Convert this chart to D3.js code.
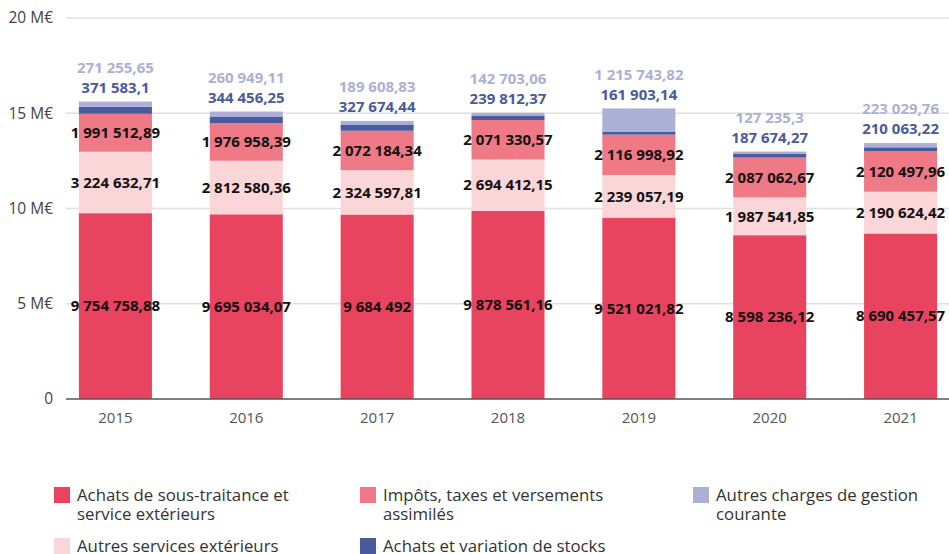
<!DOCTYPE html>
<html>
<head>
<meta charset="utf-8">
<script src="https://cdn.jsdelivr.net/npm/d3@7"></script>
<style>
  body { margin: 0; background: #fff; }
  svg { display: block; font-family: "Open Sans", "Noto Sans", sans-serif; }
</style>
</head>
<body>
<svg id="chart" width="949" height="554"></svg>
<script>
// Charges d'exploitation par année (en euros)
const years = ["2015", "2016", "2017", "2018", "2019", "2020", "2021"];

const sousTraitance = [9754758.88, 9695034.07, 9684492, 9878561.16, 9521021.82, 8598236.12, 8690457.57];
const autresServices = [3224632.71, 2812580.36, 2324597.81, 2694412.15, 2239057.19, 1987541.85, 2190624.42];
const impots = [1991512.89, 1976958.39, 2072184.34, 2071330.57, 2116998.92, 2087062.67, 2120497.96];
const achatsStocks = [371583.1, 344456.25, 327674.44, 239812.37, 161903.14, 187674.27, 210063.22];
const autresCharges = [271255.65, 260949.11, 189608.83, 142703.06, 1215743.82, 127235.3, 223029.76];

const yTicks = [0, 5e6, 10e6, 15e6, 20e6];
const yTickLabels = ["0", "5 M€", "10 M€", "15 M€", "20 M€"];

const series = [
  { key: "sousTraitance", label: ["Achats de sous-traitance et", "service extérieurs"], values: sousTraitance, color: "#e8435f" },
  { key: "autresServices", label: ["Autres services extérieurs"], values: autresServices, color: "#fad6d8" },
  { key: "impots", label: ["Impôts, taxes et versements", "assimilés"], values: impots, color: "#ef7984" },
  { key: "achatsStocks", label: ["Achats et variation de stocks"], values: achatsStocks, color: "#4a5a9e" },
  { key: "autresCharges", label: ["Autres charges de gestion", "courante"], values: autresCharges, color: "#adb0d6" }
];

// French number format: grouping spaces, decimal comma
function fmt(v) {
  const [i, d] = String(v).split(".");
  const grouped = i.replace(/\B(?=(\d{3})+(?!\d))/g, " ");
  return d ? grouped + "," + d : grouped;
}

const rows = years.map((yr, i) => {
  const r = { year: yr };
  series.forEach(s => r[s.key] = s.values[i]);
  return r;
});

const stacked = d3.stack().keys(series.map(s => s.key))(rows);

const svg = d3.select("#chart");
const x = d3.scaleBand().domain(years).range([50, 966]).paddingInner(0.442).paddingOuter(0.221);
const y = d3.scaleLinear().domain([0, 20e6]).range([399, 18]);

// Gridlines
svg.append("g").selectAll("line")
  .data(yTicks.slice(1))
  .join("line")
  .attr("x1", 66).attr("x2", 949)
  .attr("y1", d => y(d)).attr("y2", d => y(d))
  .attr("stroke", "#e0e0e0").attr("stroke-width", 1.5);

// Y tick labels
svg.append("g").selectAll("text")
  .data(yTicks)
  .join("text")
  .attr("x", 53).attr("y", d => y(d))
  .attr("dy", "0.35em")
  .attr("text-anchor", "end")
  .attr("font-size", 15.5)
  .attr("fill", "#444")
  .text((d, i) => yTickLabels[i]);

// Stacked bars
const colorOf = Object.fromEntries(series.map(s => [s.key, s.color]));
svg.append("g").selectAll("g")
  .data(stacked)
  .join("g")
  .attr("fill", d => colorOf[d.key])
  .selectAll("rect")
  .data(d => d)
  .join("rect")
  .attr("x", d => x(d.data.year))
  .attr("width", x.bandwidth())
  .attr("y", d => y(d[1]))
  .attr("height", d => y(d[0]) - y(d[1]));

// Axis baseline
svg.append("line")
  .attr("x1", 66).attr("x2", 949)
  .attr("y1", y(0)).attr("y2", y(0))
  .attr("stroke", "#555").attr("stroke-width", 1.5);

// Year labels
svg.append("g").selectAll("text")
  .data(years)
  .join("text")
  .attr("x", d => x(d) + x.bandwidth() / 2)
  .attr("y", 418)
  .attr("dy", "0.35em")
  .attr("text-anchor", "middle")
  .attr("font-size", 15)
  .attr("fill", "#555")
  .text(d => d);

// Value labels inside the three lower segments
svg.append("g").selectAll("g")
  .data(stacked.slice(0, 3))
  .join("g")
  .selectAll("text")
  .data(d => d.map(p => ({ p, key: d.key })))
  .join("text")
  .attr("x", d => x(d.p.data.year) + x.bandwidth() / 2)
  .attr("y", d => (y(d.p[0]) + y(d.p[1])) / 2)
  .attr("dy", "0.35em")
  .attr("text-anchor", "middle")
  .attr("font-size", 15)
  .attr("font-weight", 700)
  .attr("fill", "#111")
  .text(d => fmt(d.p.data[d.key]));

// Labels above the bars for the two top segments
const topLayer = stacked[stacked.length - 1];
svg.append("g").selectAll("text")
  .data(topLayer)
  .join("text")
  .attr("x", d => x(d.data.year) + x.bandwidth() / 2)
  .attr("y", d => y(d[1]) - 14)
  .attr("dy", "0.35em")
  .attr("text-anchor", "middle")
  .attr("font-size", 15)
  .attr("font-weight", 700)
  .attr("fill", "#4a5a9e")
  .text(d => fmt(d.data.achatsStocks));

svg.append("g").selectAll("text")
  .data(topLayer)
  .join("text")
  .attr("x", d => x(d.data.year) + x.bandwidth() / 2)
  .attr("y", d => y(d[1]) - 34)
  .attr("dy", "0.35em")
  .attr("text-anchor", "middle")
  .attr("font-size", 15)
  .attr("font-weight", 700)
  .attr("fill", "#adb0d6")
  .text(d => fmt(d.data.autresCharges));

// Legend
const legendPos = [
  { key: "sousTraitance", x: 54, y: 487 },
  { key: "impots", x: 360, y: 487 },
  { key: "autresCharges", x: 693, y: 487 },
  { key: "autresServices", x: 54, y: 538 },
  { key: "achatsStocks", x: 360, y: 538 }
];
const legend = svg.append("g").selectAll("g")
  .data(legendPos)
  .join("g")
  .attr("transform", d => `translate(${d.x},${d.y})`);
legend.append("rect")
  .attr("width", 16).attr("height", 16)
  .attr("fill", d => colorOf[d.key]);
legend.append("text")
  .attr("x", 23).attr("y", 8)
  .attr("font-size", 16.8)
  .attr("fill", "#333")
  .selectAll("tspan")
  .data(d => series.find(s => s.key === d.key).label)
  .join("tspan")
  .attr("x", 23)
  .attr("dy", (d, i) => i === 0 ? "0.35em" : 19)
  .text(d => d);
</script>
</body>
</html>
